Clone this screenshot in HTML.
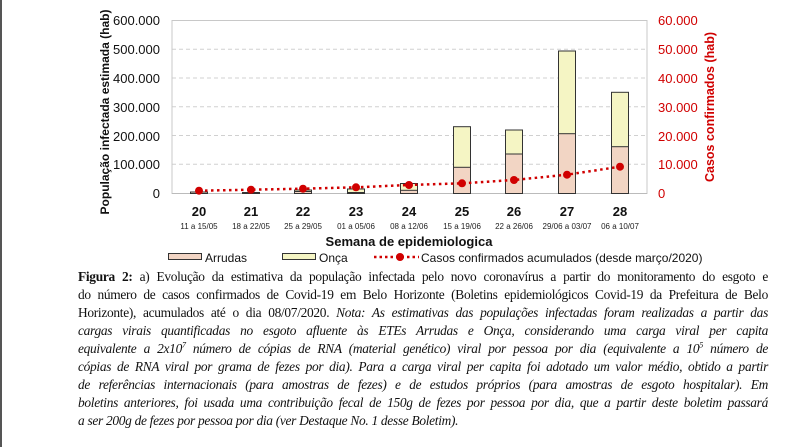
<!DOCTYPE html>
<html><head><meta charset="utf-8"><style>
body{margin:0;background:#fff;width:790px;height:447px;overflow:hidden;position:relative}
.cap{position:absolute;left:78px;top:268px;width:690px;font-family:"Liberation Serif",serif;font-size:13.4px;line-height:18px;color:#111;letter-spacing:-0.3px}
.cap div{text-align:justify;text-align-last:justify;white-space:nowrap}
.cap div.l{text-align-last:left}
.cap i{font-style:italic}
sup{font-size:8px;line-height:0}
</style></head><body>
<div style="position:absolute;left:0;top:0;width:2px;height:447px;background:#555"></div>
<svg width="790" height="270" style="position:absolute;left:0;top:0" font-family="Liberation Sans, sans-serif">
<g stroke="#d0d0d0" stroke-dasharray="4,3" stroke-width="1">
<line x1="172" x2="647" y1="49.25" y2="49.25"/><line x1="172" x2="647" y1="78" y2="78"/>
<line x1="172" x2="647" y1="106.75" y2="106.75"/><line x1="172" x2="647" y1="135.5" y2="135.5"/>
<line x1="172" x2="647" y1="164.25" y2="164.25"/></g>
<rect x="172" y="20.5" width="475" height="173" fill="none" stroke="#c8c8c8"/>
<line x1="172" x2="647" y1="193.5" y2="193.5" stroke="#bbb"/>
<g stroke="#333" stroke-width="1">
<rect x="190.5" y="192" width="17" height="1.5" fill="#f2d5c4"/>
<rect x="242.5" y="192.5" width="17" height="1" fill="#f2d5c4"/>
<rect x="294.5" y="190" width="17" height="3.5" fill="#f5f5c4"/><rect x="294.5" y="191.5" width="17" height="2" fill="#f2d5c4"/>
<rect x="347.5" y="189" width="17" height="4.5" fill="#f5f5c4"/><rect x="347.5" y="192.5" width="17" height="1" fill="#f2d5c4"/>
<rect x="400.5" y="183.5" width="17" height="10" fill="#f5f5c4"/><rect x="400.5" y="190.3" width="17" height="3.2" fill="#f2d5c4"/>
<rect x="453.5" y="126.7" width="17" height="66.8" fill="#f5f5c4"/><rect x="453.5" y="167.3" width="17" height="26.2" fill="#f2d5c4"/>
<rect x="505.5" y="130" width="17" height="63.5" fill="#f5f5c4"/><rect x="505.5" y="154" width="17" height="39.5" fill="#f2d5c4"/>
<rect x="558.5" y="51" width="17" height="142.5" fill="#f5f5c4"/><rect x="558.5" y="133.7" width="17" height="59.8" fill="#f2d5c4"/>
<rect x="611.5" y="92.3" width="17" height="101.2" fill="#f5f5c4"/><rect x="611.5" y="146.7" width="17" height="46.8" fill="#f2d5c4"/>
</g>
<polyline points="199,190.7 251,189.7 303,188.7 356,187.3 409,185 462,183.3 514,180 567,174.7 620,166.7" fill="none" stroke="#d00000" stroke-width="2.5" stroke-dasharray="2.5,3.5"/>
<g fill="#d00000"><circle cx="199" cy="190.7" r="4"/><circle cx="251" cy="189.7" r="4"/><circle cx="303" cy="188.7" r="4"/><circle cx="356" cy="187.3" r="4"/><circle cx="409" cy="185" r="4"/><circle cx="462" cy="183.3" r="4"/><circle cx="514" cy="180" r="4"/><circle cx="567" cy="174.7" r="4"/><circle cx="620" cy="166.7" r="4"/></g>
<g font-size="13" fill="#111" text-anchor="end">
<text x="160" y="25">600.000</text><text x="160" y="54">500.000</text><text x="160" y="83">400.000</text><text x="160" y="112">300.000</text><text x="160" y="141">200.000</text><text x="160" y="169">100.000</text><text x="160" y="198">0</text></g>
<g font-size="13" fill="#d00000">
<text x="658" y="25">60.000</text><text x="658" y="54">50.000</text><text x="658" y="83">40.000</text><text x="658" y="112">30.000</text><text x="658" y="141">20.000</text><text x="658" y="169">10.000</text><text x="658" y="198">0</text></g>
<text transform="translate(109,112) rotate(-90)" text-anchor="middle" font-size="12" font-weight="bold" fill="#111" textLength="205" lengthAdjust="spacingAndGlyphs">População infectada estimada (hab)</text>
<text transform="translate(714,107) rotate(-90)" text-anchor="middle" font-size="12.5" font-weight="bold" fill="#d00000">Casos confirmados (hab)</text>
<g font-size="13" font-weight="bold" text-anchor="middle" fill="#111">
<text x="199" y="216">20</text><text x="251" y="216">21</text><text x="303" y="216">22</text><text x="356" y="216">23</text><text x="409" y="216">24</text><text x="462" y="216">25</text><text x="514" y="216">26</text><text x="567" y="216">27</text><text x="620" y="216">28</text></g>
<g font-size="8" text-anchor="middle" fill="#222">
<text x="199" y="229">11 a 15/05</text><text x="251" y="229">18 a 22/05</text><text x="303" y="229">25 a 29/05</text><text x="356" y="229">01 a 05/06</text><text x="409" y="229">08 a 12/06</text><text x="462" y="229">15 a 19/06</text><text x="514" y="229">22 a 26/06</text><text x="567" y="229">29/06 a 03/07</text><text x="620" y="229">06 a 10/07</text></g>
<text x="409" y="246" text-anchor="middle" font-size="13" font-weight="bold" fill="#111">Semana de epidemiologica</text>
<rect x="168.5" y="253.5" width="33" height="6" fill="#f2d5c4" stroke="#333"/>
<text x="205" y="262" font-size="12" fill="#111">Arrudas</text>
<rect x="282.5" y="253.5" width="33" height="6" fill="#f5f5c4" stroke="#333"/>
<text x="319" y="262" font-size="12" fill="#111">Onça</text>
<line x1="374" x2="419" y1="257" y2="257" stroke="#d00000" stroke-width="2.5" stroke-dasharray="2.5,3"/>
<circle cx="400" cy="257" r="4" fill="#d00000"/>
<text x="421" y="262" font-size="12" fill="#111">Casos confirmados acumulados (desde março/2020)</text>
</svg>
<div class="cap">
<div><b>Figura 2:</b> a) Evolução da estimativa da população infectada pelo novo coronavírus a partir do monitoramento do esgoto e</div>
<div>do número de casos confirmados de Covid-19 em Belo Horizonte (Boletins epidemiológicos Covid-19 da Prefeitura de Belo</div>
<div>Horizonte), acumulados até o dia 08/07/2020. <i>Nota: As estimativas das populações infectadas foram realizadas a partir das</i></div>
<div><i>cargas virais quantificadas no esgoto afluente às ETEs Arrudas e Onça, considerando uma carga viral per capita</i></div>
<div><i>equivalente a 2x10<sup>7</sup> número de cópias de RNA (material genético) viral por pessoa por dia (equivalente a 10<sup>5</sup> número de</i></div>
<div><i>cópias de RNA viral por grama de fezes por dia). Para a carga viral per capita foi adotado um valor médio, obtido a partir</i></div>
<div><i>de referências internacionais (para amostras de fezes) e de estudos próprios (para amostras de esgoto hospitalar). Em</i></div>
<div><i>boletins anteriores, foi usada uma contribuição fecal de 150g de fezes por pessoa por dia, que a partir deste boletim passará</i></div>
<div class="l"><i>a ser 200g de fezes por pessoa por dia (ver Destaque No. 1 desse Boletim).</i></div>
</div>
</body></html>
